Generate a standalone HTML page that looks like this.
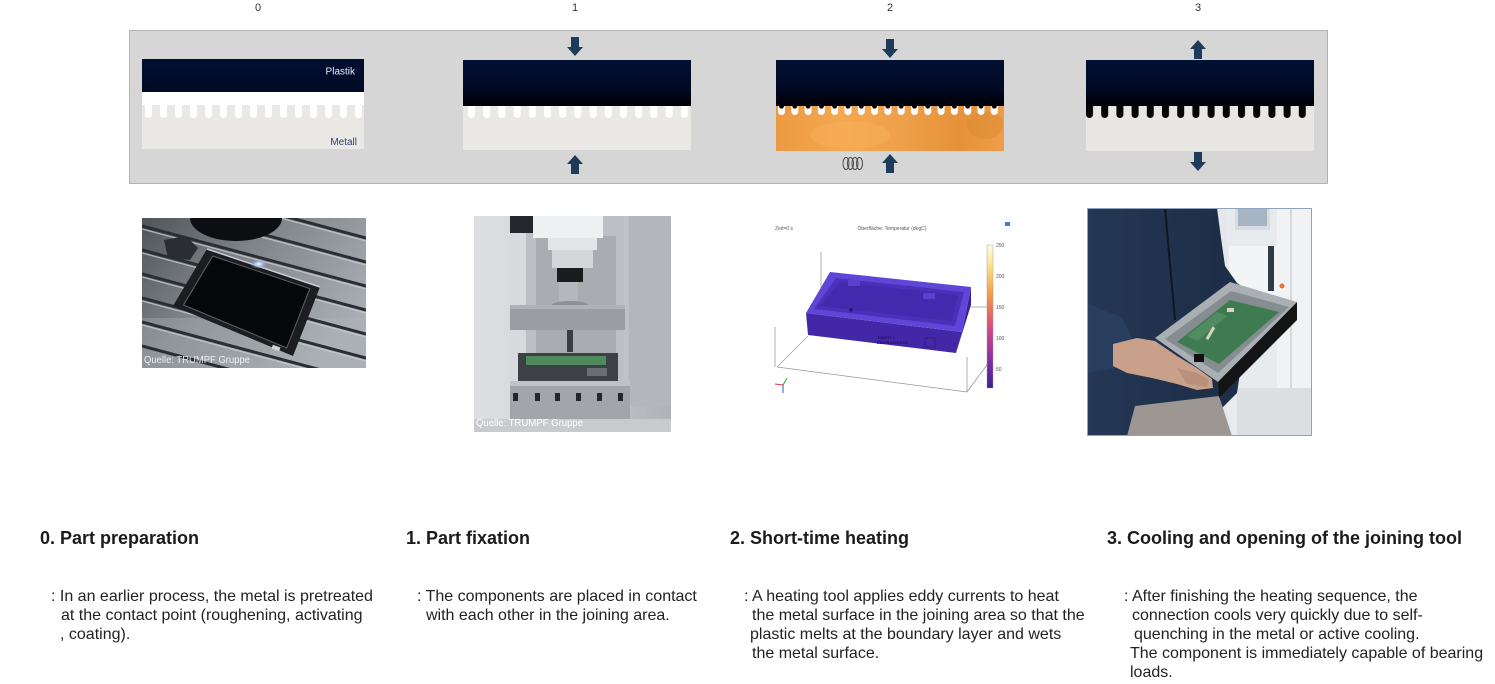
<!DOCTYPE html>
<html>
<head>
<meta charset="utf-8">
<style>
  html,body{margin:0;padding:0;background:#fff;}
  body{width:1495px;height:684px;position:relative;overflow:hidden;font-family:"Liberation Sans",Arial,sans-serif;}
  svg{position:absolute;left:0;top:0;}
  .h{position:absolute;top:527px;font-size:18px;line-height:22px;font-weight:bold;color:#1b1b1b;white-space:pre;}
  .t{position:absolute;font-size:16px;line-height:19px;color:#222;white-space:pre;}
</style>
</head>
<body>
<svg width="1495" height="684" viewBox="0 0 1495 684" xmlns="http://www.w3.org/2000/svg">
  <defs>
    <linearGradient id="dk" x1="0" y1="0" x2="0" y2="1">
      <stop offset="0" stop-color="#021033"/>
      <stop offset="0.6" stop-color="#010a25"/>
      <stop offset="1" stop-color="#000003"/>
    </linearGradient>
    <linearGradient id="dk0" x1="0" y1="0" x2="0" y2="1">
      <stop offset="0" stop-color="#020f31"/>
      <stop offset="1" stop-color="#000a24"/>
    </linearGradient>
    <linearGradient id="org" x1="0" y1="0" x2="1" y2="0">
      <stop offset="0" stop-color="#ec9a44"/>
      <stop offset="0.3" stop-color="#f4a84f"/>
      <stop offset="0.55" stop-color="#eea04a"/>
      <stop offset="0.8" stop-color="#e6913a"/>
      <stop offset="1" stop-color="#ef9e47"/>
    </linearGradient>
    <pattern id="pw0" patternUnits="userSpaceOnUse" x="145" y="105" width="15" height="13">
      <rect width="15" height="13" fill="#e9e8e4"/>
      <path d="M0,0 H7 V9.5 A3.5,3.5 0 0 1 0,9.5 Z" fill="#ffffff"/>
    </pattern>
    <pattern id="pw1" patternUnits="userSpaceOnUse" x="468" y="106" width="15.2" height="12">
      <rect width="15.2" height="12" fill="#e9e8e4"/>
      <path d="M0,0 H7 V8.5 A3.5,3.5 0 0 1 0,8.5 Z" fill="#ffffff"/>
    </pattern>
    <pattern id="pb3" patternUnits="userSpaceOnUse" x="1086" y="106" width="15.2" height="12">
      <rect width="15.2" height="12" fill="#e8e7e3"/>
      <path d="M0,0 H7 V8.5 A3.5,3.5 0 0 1 0,8.5 Z" fill="#040404"/>
    </pattern>
    <pattern id="po2" patternUnits="userSpaceOnUse" x="778" y="106" width="13.3" height="10">
      <path d="M0,0 H7 V5.5 A3.5,3.5 0 0 1 0,5.5 Z" fill="#ffffff"/>
      <path d="M1,0 A2.5,2.6 0 0 0 6,0 Z" fill="#000004"/>
    </pattern>
    <path id="adn" d="M-4,0 H4 V10 H8 L0,19 L-8,10 H-4 Z" fill="#1f3b5c"/>
    <path id="aup" d="M-4,19 H4 V9 H8 L0,0 L-8,9 H-4 Z" fill="#1f3b5c"/>
    <linearGradient id="g0" x1="0" y1="0" x2="1" y2="0.6">
      <stop offset="0" stop-color="#4f5459"/>
      <stop offset="0.45" stop-color="#80858a"/>
      <stop offset="1" stop-color="#a9aeb3"/>
    </linearGradient>
    <radialGradient id="glow" cx="0.5" cy="0.5" r="0.5">
      <stop offset="0" stop-color="#ffffff"/>
      <stop offset="0.4" stop-color="#b8ccff" stop-opacity="0.8"/>
      <stop offset="1" stop-color="#8090c0" stop-opacity="0"/>
    </radialGradient>
    <linearGradient id="cbar" x1="0" y1="0" x2="0" y2="1">
      <stop offset="0" stop-color="#fffbe8"/>
      <stop offset="0.15" stop-color="#fbe08a"/>
      <stop offset="0.35" stop-color="#f39a45"/>
      <stop offset="0.55" stop-color="#e0507a"/>
      <stop offset="0.75" stop-color="#9a34a4"/>
      <stop offset="1" stop-color="#3a1f94"/>
    </linearGradient>
    <linearGradient id="g1" x1="0" y1="0" x2="1" y2="0">
      <stop offset="0" stop-color="#dcdee1"/>
      <stop offset="0.7" stop-color="#cfd2d5"/>
      <stop offset="0.8" stop-color="#b9bdc1"/>
      <stop offset="1" stop-color="#aeb2b6"/>
    </linearGradient>
    <linearGradient id="jk" x1="0" y1="0" x2="1" y2="0">
      <stop offset="0" stop-color="#243754"/>
      <stop offset="1" stop-color="#1c2c46"/>
    </linearGradient>
    <clipPath id="c0"><rect x="0" y="0" width="224" height="150"/></clipPath>
    <clipPath id="c1"><rect x="0" y="0" width="197" height="216"/></clipPath>
    <clipPath id="c3"><rect x="0" y="0" width="225" height="228"/></clipPath>
  </defs>

  <!-- step numbers -->
  <g font-family="Liberation Sans, Arial, sans-serif" font-size="11" fill="#333" text-anchor="middle">
    <text x="258" y="11">0</text>
    <text x="575" y="11">1</text>
    <text x="890" y="11">2</text>
    <text x="1198" y="11">3</text>
  </g>

  <!-- grey strip -->
  <rect x="129.5" y="30.5" width="1198" height="153" fill="#d6d6d6" stroke="#b3b3b3" stroke-width="1"/>

  <!-- panel 0 -->
  <rect x="142" y="59" width="222" height="33" fill="url(#dk0)"/>
  <rect x="142" y="92" width="222" height="13" fill="#ffffff"/>
  <rect x="142" y="105" width="222" height="44" fill="#e9e8e4"/>
  <rect x="142" y="105" width="222" height="13" fill="url(#pw0)"/>
  <text x="355" y="74.5" font-family="Liberation Sans, Arial, sans-serif" font-size="10" fill="#e6eaf2" text-anchor="end">Plastik</text>
  <text x="357" y="145" font-family="Liberation Sans, Arial, sans-serif" font-size="10" fill="#2c3f73" text-anchor="end">Metall</text>

  <!-- panel 1 -->
  <rect x="463" y="60" width="228" height="46" fill="url(#dk)"/>
  <rect x="463" y="106" width="228" height="44" fill="#e9e8e4"/>
  <rect x="463" y="106" width="228" height="12" fill="url(#pw1)"/>
  <use href="#adn" x="575" y="37"/>
  <use href="#aup" x="575" y="155"/>

  <!-- panel 2 -->
  <rect x="776" y="60" width="228" height="46" fill="url(#dk)"/>
  <rect x="776" y="106" width="228" height="45" fill="url(#org)"/>
  <ellipse cx="850" cy="135" rx="40" ry="14" fill="#f6ae58" opacity="0.6"/>
  <ellipse cx="985" cy="125" rx="18" ry="14" fill="#dc8a34" opacity="0.5"/>
  <rect x="776" y="106" width="228" height="10" fill="url(#po2)"/>
  <use href="#adn" x="890" y="39"/>
  <use href="#aup" x="890" y="154"/>
  <g fill="none" stroke="#4a4a4a" stroke-width="1">
    <ellipse cx="846" cy="163.5" rx="3" ry="6"/>
    <ellipse cx="850.5" cy="163.5" rx="3" ry="6"/>
    <ellipse cx="855" cy="163.5" rx="3" ry="6"/>
    <ellipse cx="859.5" cy="163.5" rx="3" ry="6"/>
  </g>

  <!-- panel 3 -->
  <rect x="1086" y="60" width="228" height="46" fill="url(#dk)"/>
  <rect x="1086" y="106" width="228" height="45" fill="#e8e7e3"/>
  <rect x="1086" y="106" width="228" height="12" fill="url(#pb3)"/>
  <use href="#aup" x="1198" y="40"/>
  <use href="#adn" x="1198" y="152"/>

  <!-- photo 0 -->
  <g transform="translate(142,218)">
    <g clip-path="url(#c0)">
      <rect width="224" height="150" fill="url(#g0)"/>
      <rect x="0" y="100" width="224" height="50" fill="#b0b4b8" opacity="0.35"/>
      <g stroke="#2a2e33" stroke-width="3">
        <line x1="0" y1="-40" x2="224" y2="20"/>
        <line x1="0" y1="-16" x2="224" y2="44"/>
        <line x1="0" y1="8" x2="224" y2="68"/>
        <line x1="0" y1="32" x2="224" y2="92"/>
        <line x1="0" y1="56" x2="224" y2="116"/>
        <line x1="0" y1="80" x2="224" y2="140"/>
        <line x1="0" y1="104" x2="224" y2="164"/>
        <line x1="0" y1="128" x2="224" y2="188"/>
      </g>
      <g stroke="#c9cdd1" stroke-width="1.2" opacity="0.8">
        <line x1="0" y1="-37" x2="224" y2="23"/>
        <line x1="0" y1="-13" x2="224" y2="47"/>
        <line x1="0" y1="11" x2="224" y2="71"/>
        <line x1="0" y1="35" x2="224" y2="95"/>
        <line x1="0" y1="59" x2="224" y2="119"/>
        <line x1="0" y1="83" x2="224" y2="143"/>
        <line x1="0" y1="107" x2="224" y2="167"/>
      </g>
      <ellipse cx="94" cy="0" rx="46" ry="23" fill="#0c0e11"/>
      <path d="M22,22 L44,18 L56,30 L48,42 L26,40 Z" fill="#2a2d31"/>
      <polygon points="31,88 65,31 178,69 151,138" fill="#1b1d20"/>
      <polygon points="41.5,87 70.7,38 167.9,70.7 144.7,130" fill="#060708" stroke="#5d6267" stroke-width="1"/>
      <path d="M65,31 L178,69" stroke="#c8ccd2" stroke-width="1.5"/>
      <ellipse cx="117" cy="46" rx="9" ry="5" fill="url(#glow)"/>
      <rect x="130" y="128" width="8" height="4" fill="#d0d3d6" transform="rotate(20 134 130)"/>
      <text x="2" y="145" font-family="Liberation Sans, Arial, sans-serif" font-size="10" fill="#ffffff" fill-opacity="0.85" textLength="106" lengthAdjust="spacingAndGlyphs">Quelle: TRUMPF Gruppe</text>
    </g>
  </g>

  <!-- photo 1 -->
  <g transform="translate(474,216)">
    <g clip-path="url(#c1)">
      <rect width="197" height="216" fill="url(#g1)"/>
      <rect x="52" y="0" width="98" height="170" fill="#bcc0c4"/>
      <rect x="62" y="20" width="80" height="150" fill="#a9adb1"/>
      <rect x="155" y="0" width="42" height="190" fill="#b3b7bb"/>
      <rect x="59" y="0" width="70" height="22" fill="#eef0f2"/>
      <rect x="36" y="0" width="23" height="17" fill="#24282c"/>
      <rect x="74" y="22" width="49" height="12" fill="#e2e5e8"/>
      <rect x="78" y="34" width="41" height="18" fill="#d4d7da"/>
      <rect x="83" y="52" width="26" height="14" fill="#1b1c1e"/>
      <rect x="85" y="66" width="19" height="22" fill="#b4b8bc"/>
      <ellipse cx="96" cy="89" rx="18" ry="4" fill="#8e9296"/>
      <rect x="36" y="89" width="115" height="25" fill="#9a9ea2"/>
      <rect x="36" y="89" width="115" height="4" fill="#b0b3b6"/>
      <rect x="93" y="114" width="6" height="22" fill="#3a3d40"/>
      <rect x="44" y="137" width="100" height="30" fill="#3d4145"/>
      <rect x="52" y="140" width="80" height="9" fill="#4f8a5c"/>
      <rect x="113" y="152" width="20" height="8" fill="#6a6e72"/>
      <rect x="36" y="165" width="120" height="38" fill="#a2a6aa"/>
      <rect x="36" y="165" width="120" height="5" fill="#c0c3c6"/>
      <g fill="#25282b">
        <rect x="39" y="177" width="5" height="8"/>
        <rect x="61" y="177" width="5" height="8"/>
        <rect x="81" y="177" width="5" height="8"/>
        <rect x="102" y="177" width="5" height="8"/>
        <rect x="123" y="177" width="5" height="8"/>
        <rect x="144" y="177" width="5" height="8"/>
      </g>
      <rect x="0" y="203" width="197" height="13" fill="#c8cacd"/>
      <text x="2" y="210" font-family="Liberation Sans, Arial, sans-serif" font-size="10" fill="#ffffff" textLength="107" lengthAdjust="spacingAndGlyphs">Quelle: TRUMPF Gruppe</text>
    </g>
  </g>

  <!-- photo 2 (simulation) -->
  <g font-family="Liberation Sans, Arial, sans-serif">
    <text x="775" y="230" font-size="5" fill="#555">Zeit=0 s</text>
    <text x="892" y="230" font-size="5" fill="#555" text-anchor="middle">Oberfläche: Temperatur (degC)</text>
    <rect x="1005" y="222" width="5" height="4" fill="#4a7ab8"/>
    <g stroke="#9a9a9a" stroke-width="0.8" fill="none">
      <line x1="821" y1="252" x2="821" y2="310"/>
      <line x1="775" y1="327" x2="775" y2="367"/>
      <line x1="777" y1="367" x2="967" y2="392"/>
      <line x1="967" y1="357" x2="967" y2="392"/>
      <line x1="967" y1="392" x2="992" y2="358"/>
      <line x1="971" y1="307" x2="992" y2="307"/>
      <line x1="777" y1="367" x2="808" y2="336"/>
    </g>
    <polygon points="962,332 971,287 971,305 956,353" fill="#3a2390"/>
    <polygon points="806,313 962,332 956,353 808,335" fill="#4228a6"/>
    <polygon points="830,272 971,287 962,332 806,313" fill="#6046d8"/>
    <polygon points="836,278 964,292 955,326 814,309" fill="#4b31ba"/>
    <polygon points="840,282 958,295 952,321 820,306" fill="#4329ad"/>
    <rect x="848" y="280" width="12" height="6" fill="#5a40cc"/>
    <rect x="923" y="293" width="12" height="6" fill="#5a40cc"/>
    <circle cx="851" cy="310" r="1.8" fill="#2a1570"/>
    <text x="878" y="339" font-size="4" fill="#24106a" font-weight="bold">EBERT +</text>
    <text x="877" y="344" font-size="4" fill="#24106a" font-weight="bold">EBERHARDSCH</text>
    <rect x="925" y="338" width="10" height="9" fill="none" stroke="#2a1570" stroke-width="0.6"/>
    <rect x="987" y="245" width="6" height="143" fill="url(#cbar)" stroke="#999" stroke-width="0.4"/>
    <g font-size="5" fill="#555">
      <text x="996" y="247">250</text>
      <text x="996" y="278">200</text>
      <text x="996" y="309">150</text>
      <text x="996" y="340">100</text>
      <text x="996" y="371">50</text>
    </g>
    <g stroke-width="1">
      <line x1="783" y1="385" x2="775" y2="384" stroke="#d03050"/>
      <line x1="783" y1="385" x2="787" y2="378" stroke="#30a030"/>
      <line x1="783" y1="385" x2="783" y2="393" stroke="#3050c0"/>
    </g>
  </g>

  <!-- photo 3 -->
  <g transform="translate(1087,208)">
    <g clip-path="url(#c3)">
      <rect width="225" height="228" fill="#e4e8ec"/>
      <rect x="140" y="0" width="85" height="228" fill="#e8ebee"/>
      <rect x="148" y="0" width="35" height="22" fill="#d6dce1"/>
      <rect x="151" y="1" width="29" height="17" fill="#a5b5c3"/>
      <rect x="142" y="38" width="48" height="62" fill="#f2f4f6"/>
      <rect x="181" y="38" width="6" height="45" fill="#2f3b46"/>
      <rect x="190" y="0" width="35" height="228" fill="#f1f2f3"/>
      <rect x="203" y="0" width="2" height="228" fill="#d6dadd"/>
      <circle cx="195" cy="78" r="2.5" fill="#e8743a"/>
      <rect x="150" y="180" width="75" height="48" fill="#dcdfe2"/>
      <polygon points="0,0 130,0 134,30 138,58 150,75 165,85 150,185 135,200 130,228 0,228" fill="url(#jk)"/>
      <polygon points="0,95 35,110 50,140 30,160 0,165" fill="#2b4162" opacity="0.8"/>
      <line x1="78" y1="0" x2="88" y2="112" stroke="#0e1726" stroke-width="2"/>
      <polygon points="48,198 132,188 145,228 40,228" fill="#9c9793"/>
      <polygon points="68,130 143,74 210,94 131,174" fill="#a9afb2"/>
      <polygon points="78,131 144,83 202,99 131,165" fill="#868d90"/>
      <polygon points="90,134 143,92 192,104 132,156" fill="#3f7b50"/>
      <polygon points="100,128 130,104 140,108 110,133" fill="#5a9468" opacity="0.7"/>
      <rect x="107" y="146" width="10" height="8" fill="#111"/>
      <rect x="122" y="118" width="3" height="14" fill="#d8d4c0" transform="rotate(30 123 125)"/>
      <rect x="140" y="100" width="7" height="4" fill="#d8d4c0"/>
      <polygon points="131,174 210,94 210,112 132,190" fill="#141414"/>
      <polygon points="26,136 50,130 68,133 90,148 110,160 125,171 126,180 110,182 90,176 65,170 40,165 26,158" fill="#c9a08a"/>
      <polygon points="90,160 110,165 122,172 120,179 100,176" fill="#b8907c"/>
    </g>
    <rect x="0.5" y="0.5" width="224" height="227" fill="none" stroke="#8fa3ba" stroke-width="1"/>
  </g>
</svg>

<!-- headings -->
<div class="h" style="left:40px;">0. Part preparation</div>
<div class="h" style="left:406px;">1. Part fixation</div>
<div class="h" style="left:730px;">2. Short-time heating</div>
<div class="h" style="left:1107px;">3. Cooling and opening of the joining tool</div>

<!-- column 0 -->
<div class="t" style="left:51px;top:587px;">: In an earlier process, the metal is pretreated</div>
<div class="t" style="left:61px;top:606px;">at the contact point (roughening, activating</div>
<div class="t" style="left:60px;top:625px;">, coating).</div>

<!-- column 1 -->
<div class="t" style="left:417px;top:587px;">: The components are placed in contact</div>
<div class="t" style="left:426px;top:606px;">with each other in the joining area.</div>

<!-- column 2 -->
<div class="t" style="left:744px;top:587px;">: A heating tool applies eddy currents to heat</div>
<div class="t" style="left:752px;top:606px;">the metal surface in the joining area so that the</div>
<div class="t" style="left:750px;top:625px;">plastic melts at the boundary layer and wets</div>
<div class="t" style="left:752px;top:644px;">the metal surface.</div>

<!-- column 3 -->
<div class="t" style="left:1124px;top:587px;">: After finishing the heating sequence, the</div>
<div class="t" style="left:1132px;top:606px;">connection cools very quickly due to self-</div>
<div class="t" style="left:1134px;top:625px;">quenching in the metal or active cooling.</div>
<div class="t" style="left:1130px;top:644px;">The component is immediately capable of bearing</div>
<div class="t" style="left:1130px;top:663px;">loads.</div>
</body>
</html>
